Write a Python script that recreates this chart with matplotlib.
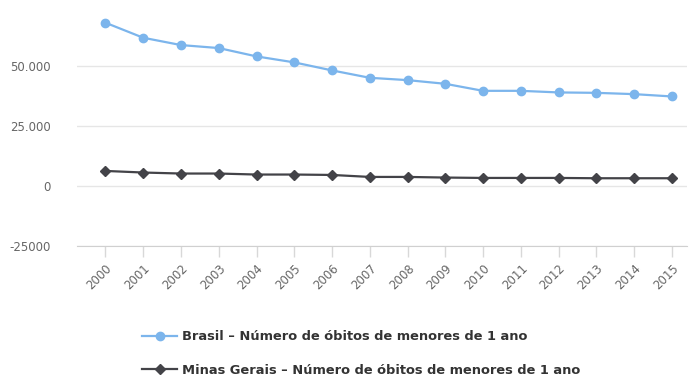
import numpy as np
import matplotlib.pyplot as plt

anos = [str(a) for a in range(2000, 2016)]
brasil = [68180, 61900, 58840, 57590, 54100, 51600, 48240, 45150,
          44180, 42640, 39700, 39700, 39030, 38860, 38320, 37350]
minas = [6200, 5530, 5110, 5110, 4690, 4690, 4520, 3690,
         3690, 3430, 3270, 3270, 3270, 3140, 3140, 3140]

y_ticks = [-25000, 0, 25000, 50000]
y_labels = ['-25000', '0', '25.000', '50.000']

nome_br = 'Brasil – Número de óbitos de menores de 1 ano'
nome_mg = 'Minas Gerais – Número de óbitos de menores de 1 ano'

fig = plt.figure(figsize=(6.89, 3.76), dpi=100)
ax = fig.add_axes([0.112, 0.347, 0.885, 0.653])

x = np.arange(len(anos))
ax.plot(x, brasil, color='#7cb5ec', lw=1.6, marker='o', ms=6,
        label=nome_br, zorder=3)
ax.plot(x, minas, color='#434348', lw=1.6, marker='D', ms=4.8,
        label=nome_mg, zorder=3)

ax.set_xlim(-0.75, 15.4)
ax.set_ylim(-25000, 77690)
ax.set_yticks(y_ticks)
ax.set_yticklabels(y_labels)
ax.set_xticks(x)
ax.set_xticklabels(anos)

ax.grid(axis='y', color='#e6e6e6', lw=1)
ax.set_axisbelow(True)
for s in ['top', 'right', 'left']:
    ax.spines[s].set_visible(False)
ax.spines['bottom'].set_color('#d0d0d0')

ax.tick_params(axis='y', length=0, pad=19, labelsize=8.5, labelcolor='#666666')
ax.tick_params(axis='x', length=8, width=1, color='#d8d8d8', pad=4,
               labelsize=8.5, labelcolor='#666666', labelrotation=45)
for lbl in ax.get_xticklabels():
    lbl.set_ha('right')
    lbl.set_rotation_mode('anchor')

fig.legend(loc='center left', bbox_to_anchor=(0.206, 0.06),
           frameon=False, borderaxespad=0, borderpad=0,
           handlelength=2.7, handletextpad=0.4, labelspacing=1.55,
           prop={'size': 9.4, 'weight': 'bold'}, labelcolor='#333333')

fig.savefig('out.png', dpi=100)
